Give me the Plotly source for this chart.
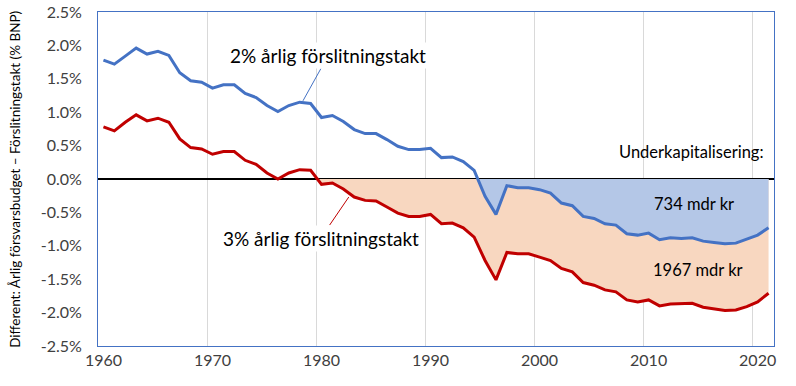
import plotly.graph_objects as go

years = list(range(1960, 2022))

rate_2pct = [
    1.78, 1.72, 1.84, 1.96, 1.87, 1.91, 1.85, 1.59, 1.47, 1.45,
    1.36, 1.41, 1.41, 1.28, 1.22, 1.10, 1.01, 1.10, 1.15, 1.13,
    0.92, 0.95, 0.86, 0.74, 0.68, 0.68, 0.59, 0.49, 0.44, 0.44,
    0.46, 0.32, 0.33, 0.26, 0.13, -0.26, -0.53, -0.10, -0.13, -0.13,
    -0.16, -0.21, -0.36, -0.40, -0.56, -0.59, -0.67, -0.69, -0.82, -0.84,
    -0.81, -0.91, -0.88, -0.89, -0.88, -0.93, -0.95, -0.97, -0.96, -0.90,
    -0.84, -0.73,
]

rate_3pct = [
    0.78, 0.72, 0.85, 0.96, 0.87, 0.91, 0.85, 0.60, 0.47, 0.45,
    0.37, 0.41, 0.41, 0.28, 0.22, 0.09, 0.00, 0.09, 0.14, 0.13,
    -0.08, -0.06, -0.15, -0.27, -0.32, -0.33, -0.42, -0.51, -0.56, -0.56,
    -0.53, -0.67, -0.66, -0.73, -0.87, -1.22, -1.51, -1.10, -1.12, -1.12,
    -1.17, -1.22, -1.34, -1.39, -1.55, -1.59, -1.66, -1.69, -1.81, -1.84,
    -1.81, -1.90, -1.87, -1.87, -1.86, -1.92, -1.94, -1.97, -1.96, -1.91,
    -1.84, -1.71,
]

tick_years = [1960, 1970, 1980, 1990, 2000, 2010, 2020]
y_ticks = [2.5, 2.0, 1.5, 1.0, 0.5, 0.0, -0.5, -1.0, -1.5, -2.0, -2.5]

label_2 = "2% årlig förslitningstakt"
label_3 = "3% årlig förslitningstakt"
label_under = "Underkapitalisering:"
label_734 = "734 mdr kr"
label_1967 = "1967 mdr kr"
y_title = "Different: Årlig försvarsbudget – Förslitningstakt (% BNP)"

BLUE = "#4472C4"
RED = "#C00000"
BLUE_FILL = "#B4C7E7"
PEACH_FILL = "#F8D7C0"
FONT = "Lato"


def negative_area(x, y):
    """Polygon of the part of the curve below zero (with zero crossings)."""
    xs, ys = [], []
    for i in range(len(x)):
        if i > 0 and (y[i - 1] < 0) != (y[i] < 0) and y[i - 1] != y[i]:
            t = y[i - 1] / (y[i - 1] - y[i])
            xs.append(x[i - 1] + t * (x[i] - x[i - 1]))
            ys.append(0.0)
        xs.append(x[i])
        ys.append(min(y[i], 0.0))
    return xs + [xs[-1], xs[0]], ys + [0.0, 0.0]


fig = go.Figure()

px3, py3 = negative_area(years, rate_3pct)
fig.add_trace(go.Scatter(x=px3, y=py3, fill="toself", fillcolor=PEACH_FILL,
                         mode="none", hoverinfo="skip", showlegend=False))
px2, py2 = negative_area(years, rate_2pct)
fig.add_trace(go.Scatter(x=px2, y=py2, fill="toself", fillcolor=BLUE_FILL,
                         mode="none", hoverinfo="skip", showlegend=False))

fig.add_trace(go.Scatter(x=years, y=rate_2pct, mode="lines",
                         line=dict(color=BLUE, width=3), showlegend=False))
fig.add_trace(go.Scatter(x=years, y=rate_3pct, mode="lines",
                         line=dict(color=RED, width=3), showlegend=False))

fig.add_annotation(x=1978.3, y=1.17, text=label_2, ax=25, ay=-45,
                   showarrow=True, arrowhead=0, arrowwidth=1, arrowcolor=BLUE,
                   bgcolor="white", font=dict(family=FONT, size=19, color="black"))
fig.add_annotation(x=1982.5, y=-0.27, text=label_3, ax=-28, ay=41,
                   showarrow=True, arrowhead=0, arrowwidth=1, arrowcolor=RED,
                   bgcolor="white", font=dict(family=FONT, size=19, color="black"))
fig.add_annotation(x=2020.8, y=0.40, text=label_under, showarrow=False,
                   xanchor="right", font=dict(family=FONT, size=16.5, color="black"))
fig.add_annotation(x=2014.2, y=-0.38, text=label_734, showarrow=False,
                   font=dict(family=FONT, size=16.5, color="black"))
fig.add_annotation(x=2014.5, y=-1.36, text=label_1967, showarrow=False,
                   font=dict(family=FONT, size=16.5, color="black"))
fig.add_annotation(xref="paper", yref="paper", x=-0.123, y=0.5,
                   xanchor="center", yanchor="middle",
                   text=y_title, textangle=-90, showarrow=False,
                   font=dict(family=FONT, size=13.5, color="black"))

fig.update_layout(
    width=796, height=386,
    margin=dict(l=98, r=22, t=12, b=40, autoexpand=False),
    paper_bgcolor="white", plot_bgcolor="white",
    font=dict(family=FONT, size=14, color="#404040"),
)
fig.update_xaxes(
    range=[1959.5, 2021.5], automargin=False,
    tickvals=tick_years, ticktext=[str(v) for v in tick_years],
    showgrid=False, ticks="", zeroline=False,
    showline=True, linecolor=BLUE, linewidth=1, mirror=True,
    minor=dict(tick0=1959.5, dtick=10, showgrid=True,
               gridcolor="#D9D9D9", gridwidth=1, ticks=""),
    tickfont=dict(family=FONT, size=16, color="#404040"),
)
fig.update_yaxes(
    range=[-2.5, 2.5], automargin=False,
    tickvals=y_ticks, ticktext=[f"{v:.1f}%" for v in y_ticks],
    showgrid=False, ticks="",
    zeroline=True, zerolinecolor="black", zerolinewidth=1.5,
    showline=True, linecolor=BLUE, linewidth=1, mirror=True,
    layer="above traces",
    ticklabelstandoff=12, ticklabeloverflow="allow",
    tickfont=dict(family=FONT, size=16, color="#404040"),
)

# remove the browser's default 8px body margin so the figure sits at (0, 0)
fig.write_html("out.html",
               config={"displayModeBar": False},
               post_script="document.body.style.margin='0';")
